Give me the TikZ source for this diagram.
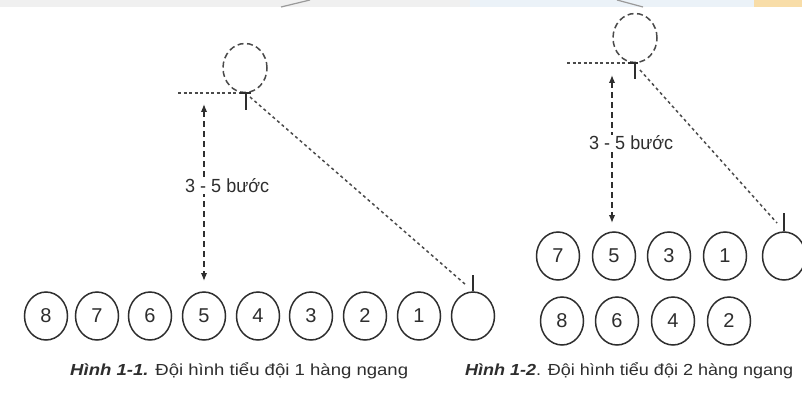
\documentclass[tikz,border=0pt]{standalone}
\usepackage{fontspec}
\setmainfont{Liberation Sans}
\usetikzlibrary{shapes.geometric,arrows.meta}
\definecolor{ink}{HTML}{2E2E2E}
\definecolor{dashink}{HTML}{4A4A4A}
\definecolor{bandgray}{HTML}{F0F0F0}
\definecolor{bandblue}{HTML}{EBF2F8}
\definecolor{bandorange}{HTML}{F8DDA8}
\definecolor{bandline}{HTML}{9A9A9A}
\begin{document}
\begin{tikzpicture}[x=1pt,y=-1pt,
  soldier/.style={ellipse,draw=ink,line width=1.5pt,minimum width=43pt,minimum height=48pt,inner sep=0pt,
    text=ink,font=\fontsize{20}{20}\selectfont},
  leader/.style={ellipse,draw=dashink,line width=1.5pt,dash pattern=on 6pt off 3.5pt,minimum width=44pt,minimum height=49pt,inner sep=0pt},
  guide/.style={draw=dashink,line width=1.4pt,dash pattern=on 3pt off 2.5pt},
  diag/.style={draw=dashink,line width=1.5pt,dash pattern=on 3pt off 3pt},
  stick/.style={draw=ink,line width=1.5pt},
  distarrow/.style={draw=ink,line width=1.5pt,dash pattern=on 6pt off 4pt,{Latex[length=8pt,width=6.5pt]}-{Latex[length=8pt,width=6.5pt]}},
  steplabel/.style={fill=white,inner sep=1pt,anchor=west,text=ink},
  caption/.style={anchor=base west,inner sep=0pt,text=ink}
]
\useasboundingbox (0,0) rectangle (802,393);
\fill[white] (0,0) rectangle (802,393);
% top band
\fill[bandgray] (0,0) rectangle (470,7);
\fill[bandblue] (470,0) rectangle (754,7);
\fill[bandorange] (754,0) rectangle (802,7);
\draw[bandline,line width=1.2pt] (281,7) -- (310,0);
\draw[bandline,line width=1.2pt] (617,0) -- (643,7);

% ---------- Figure 1-1 ----------
\node[leader] (L1) at (245,68) {};
\coordinate (g1a) at (178,93);
\coordinate (g1b) at (240,93);
\draw[guide] (g1a) -- (g1b);
\coordinate (t1a) at (240,93);
\coordinate (t1b) at (251,93);
\coordinate (t1c) at (246,93);
\coordinate (t1d) at (246,110);
\draw[stick] (t1a) -- (t1b);
\draw[stick] (t1c) -- (t1d);

\node[soldier] (a8) at (46,316) {8};
\node[soldier] (a7) at (97,316) {7};
\node[soldier] (a6) at (150,316) {6};
\node[soldier] (a5) at (204,316) {5};
\node[soldier] (a4) at (258,316) {4};
\node[soldier] (a3) at (311,316) {3};
\node[soldier] (a2) at (365,316) {2};
\node[soldier] (a1) at (419,316) {1};
\node[soldier] (a0) at (473,316) {};
\coordinate (s1) at (473,275);
\draw[stick] (a0.north) -- (s1);
\coordinate (d1a) at (250,97);
\coordinate (d1b) at (466,285);
\draw[diag] (d1a) -- (d1b);

\coordinate (v1a) at (204,104);
\coordinate (v1b) at (204,281);
\draw[distarrow] (v1a) -- (v1b);
\node[steplabel] (lab1) at (184,186) {\resizebox{84pt}{\height}{\fontsize{19}{19}\selectfont 3 - 5 bước}};

\node[caption] (cap1) at (70,375) {\resizebox{338pt}{\height}{\fontsize{16}{16}\selectfont\textbf{\textit{Hình 1-1.}} Đội hình tiểu đội 1 hàng ngang}};

% ---------- Figure 1-2 ----------
\node[leader] (L2) at (635,38) {};
\coordinate (g2a) at (567,63);
\coordinate (g2b) at (628,63);
\draw[guide] (g2a) -- (g2b);
\coordinate (t2a) at (628,63);
\coordinate (t2b) at (638,63);
\coordinate (t2c) at (635,63);
\coordinate (t2d) at (635,79);
\draw[stick] (t2a) -- (t2b);
\draw[stick] (t2c) -- (t2d);

\node[soldier] (b7) at (558,256) {7};
\node[soldier] (b5) at (614,256) {5};
\node[soldier] (b3) at (669,256) {3};
\node[soldier] (b1) at (725,256) {1};
\node[soldier] (b0) at (784,256) {};
\node[soldier] (b8) at (562,321) {8};
\node[soldier] (b6) at (617,321) {6};
\node[soldier] (b4) at (673,321) {4};
\node[soldier] (b2) at (729,321) {2};
\coordinate (s2) at (784,213);
\draw[stick] (b0.north) -- (s2);
\coordinate (d2a) at (640,70);
\coordinate (d2b) at (777,223);
\draw[diag] (d2a) -- (d2b);

\coordinate (v2a) at (612,75);
\coordinate (v2b) at (612,223);
\draw[distarrow] (v2a) -- (v2b);
\node[steplabel] (lab2) at (588,143) {\resizebox{84pt}{\height}{\fontsize{19}{19}\selectfont 3 - 5 bước}};

\node[caption] (cap2) at (465,375) {\resizebox{328pt}{\height}{\fontsize{16}{16}\selectfont\textbf{\textit{Hình 1-2}}. Đội hình tiểu đội 2 hàng ngang}};
\end{tikzpicture}
\end{document}
